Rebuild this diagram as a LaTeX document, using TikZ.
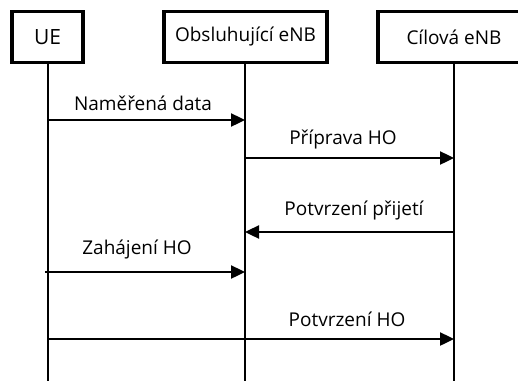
\documentclass[tikz,border=0pt]{standalone}
\usepackage{fontspec}
\setmainfont{Open Sans}
\usetikzlibrary{arrows.meta}
\tikzset{
  actor/.style={draw=black, line width=3.6pt, fill=white, minimum height=51pt,
    inner sep=0pt, font=\fontsize{19}{22}\selectfont},
  lifeline/.style={line width=2.6pt},
  msg/.style={line width=2.4pt, -{Triangle[length=14pt,width=13pt]}},
  lbl/.style={font=\fontsize{19}{22}\selectfont, inner sep=0pt}
}
\begin{document}
\begin{tikzpicture}[x=1pt,y=-1pt]
\useasboundingbox (0,0) rectangle (518,380);
\clip (0,0) rectangle (518,380);

% participants
\node[actor, minimum width=71pt, font=\fontsize{21}{24}\selectfont] (ue) at (47.5,37) {UE};
\node[actor, minimum width=163pt] (srv) at (245.5,37) {Obsluhující eNB};
\node[actor, minimum width=152pt] (tgt) at (454,37) {Cílová eNB};

% lifeline ends
\coordinate (ueEnd) at (48,382);
\coordinate (srvEnd) at (245,382);
\coordinate (tgtEnd) at (454,382);
\draw[lifeline] (ue.south -| ueEnd) -- (ueEnd);
\draw[lifeline] (srv.south -| srvEnd) -- (srvEnd);
\draw[lifeline] (tgt.south -| tgtEnd) -- (tgtEnd);

% message end points
\coordinate (m1a) at (48,120);   \coordinate (m1b) at (245,120);
\coordinate (m2a) at (245,158);  \coordinate (m2b) at (454,158);
\coordinate (m3a) at (454,232);  \coordinate (m3b) at (245,232);
\coordinate (m4a) at (45,272);   \coordinate (m4b) at (245,272);
\coordinate (m5a) at (48,339);   \coordinate (m5b) at (454,339);

% messages
\draw[msg] (m1a) -- (m1b);
\draw[msg] (m2a) -- (m2b);
\draw[msg] (m3a) -- (m3b);
\draw[msg] (m4a) -- (m4b);
\draw[msg] (m5a) -- (m5b);

% message labels
\node[lbl] (t1) at (143,103) {Naměřená data};
\node[lbl] (t2) at (343,140) {Příprava HO};
\node[lbl] (t3) at (354,210) {Potvrzení přijetí};
\node[lbl] (t4) at (137,249) {Zahájení HO};
\node[lbl] (t5) at (347,319) {Potvrzení HO};
\end{tikzpicture}
\end{document}
